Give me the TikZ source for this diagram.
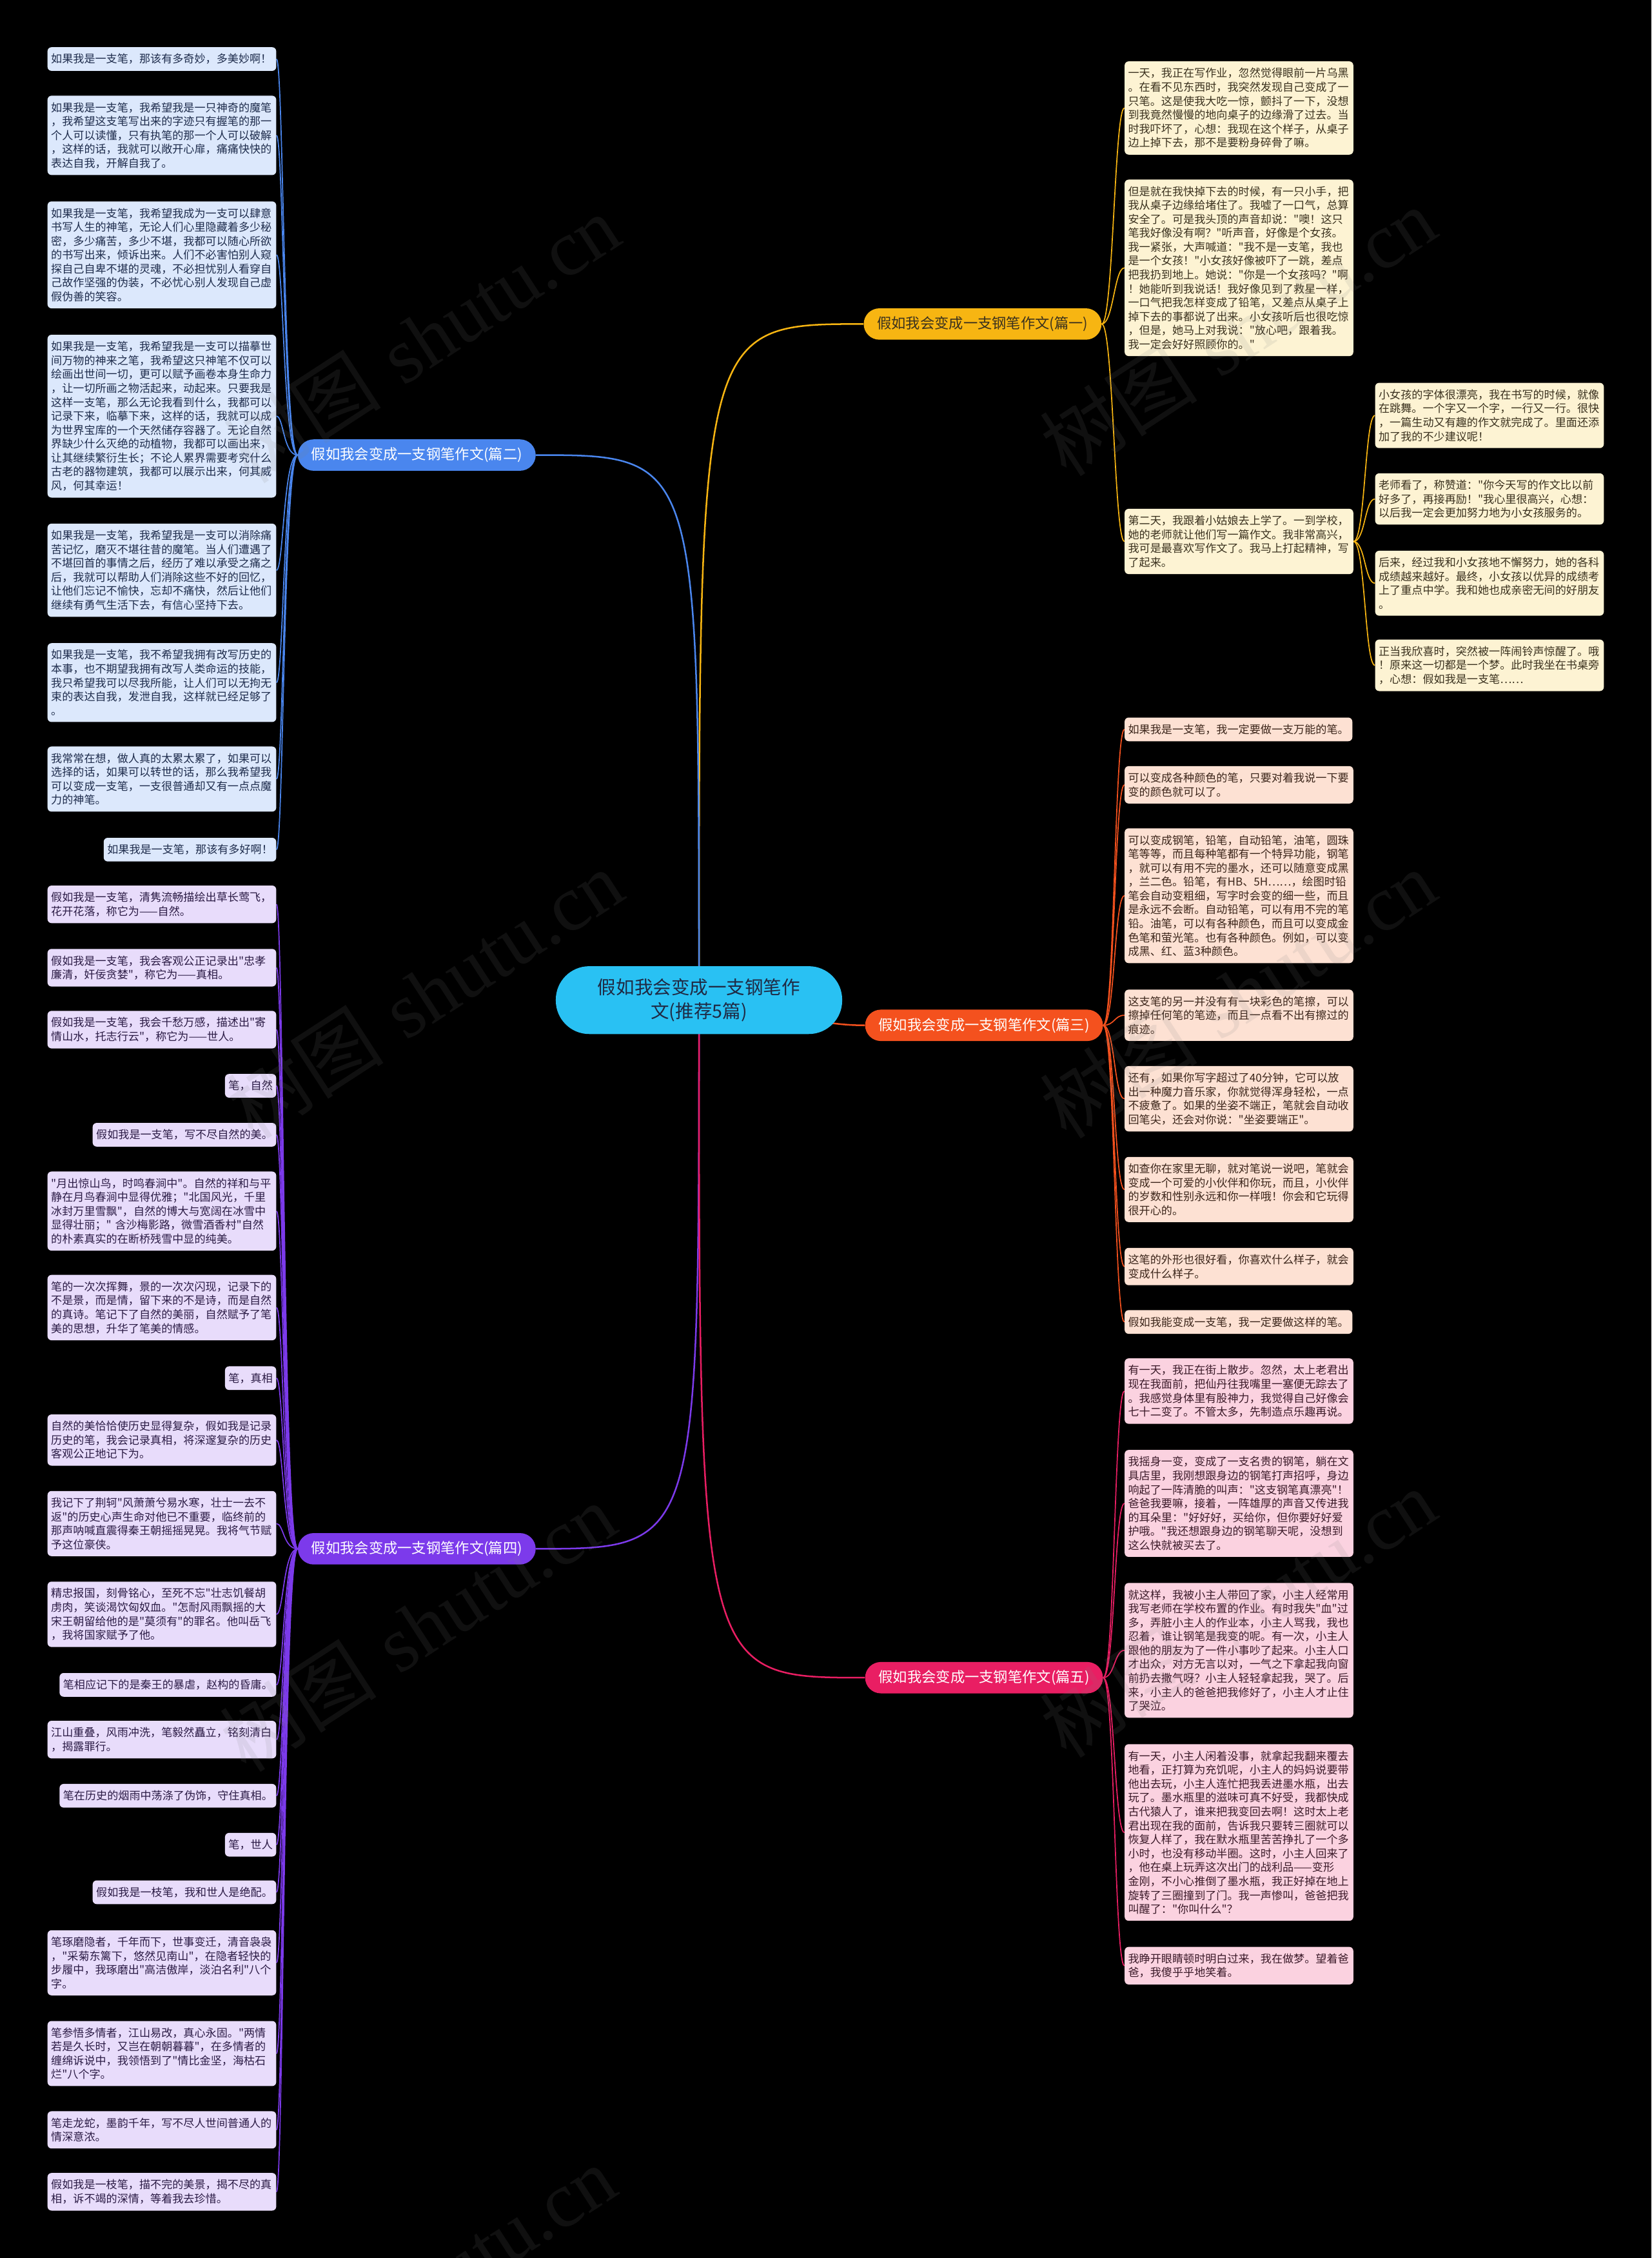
\documentclass[tikz,border=0pt]{standalone}
\usepackage{fontspec}
\newfontfamily\cjk{Noto Sans CJK SC}
\newfontfamily\wmlatin{Liberation Serif}
\usepackage{xcolor}
\definecolor{rootC}{HTML}{29C1F3}
\definecolor{rootT}{HTML}{1F2A44}
\definecolor{blueC}{HTML}{4A86EE}
\definecolor{blueL}{HTML}{DCE8FC}
\definecolor{blueT}{HTML}{1E2C4C}
\definecolor{purpC}{HTML}{7C3AEB}
\definecolor{purpL}{HTML}{E8DCFB}
\definecolor{purpT}{HTML}{2B1B45}
\definecolor{goldC}{HTML}{F7B512}
\definecolor{goldL}{HTML}{FDF3D3}
\definecolor{goldT}{HTML}{3A311E}
\definecolor{orngC}{HTML}{F4511E}
\definecolor{orngL}{HTML}{FDE1D3}
\definecolor{orngT}{HTML}{3B251A}
\definecolor{pinkC}{HTML}{E91E63}
\definecolor{pinkL}{HTML}{FBD2E0}
\definecolor{pinkT}{HTML}{3B1A29}

\pgfdeclarelayer{back}
\pgfsetlayers{back,main}

\newcommand{\leaffont}{\cjk\fontsize{10.9}{13.75}\selectfont}

\begin{document}
\begin{tikzpicture}[
    x=0.05cm, y=-0.05cm,
    root/.style={rounded corners=33pt, fill=rootC, text=rootT, minimum width=283pt,
      minimum height=67pt, align=center, font=\cjk\fontsize{18.2}{24}\selectfont},
    branch/.style={rounded corners=15.5pt, minimum width=235pt, minimum height=31pt,
      inner sep=0pt, font=\cjk\fontsize{14.2}{16}\selectfont},
    box/.style={rounded corners=4pt, inner xsep=3.5pt, inner ysep=6.5pt, font=\leaffont},
    leaf/.style={box, text width=219pt, align=left},
    blueK/.style={fill=blueL, text=blueT},
    purpK/.style={fill=purpL, text=purpT},
    goldK/.style={fill=goldL, text=goldT},
    orngK/.style={fill=orngL, text=orngT},
    pinkK/.style={fill=pinkL, text=pinkT},
    trunk/.style={line width=1.6pt},
    twig/.style={line width=1.1pt},
    wm/.style={text=gray, opacity=0.13, rotate=33, font=\fontsize{78}{80}\selectfont},
  ]

  \useasboundingbox (0,0) rectangle (1147,1568);

  % --- Root and the five essays ---
  \node[root] (root) at (485.5,694.5) {假如我会变成一支钢笔作\\文(推荐5篇)};

  \node[branch, fill=goldC, text=goldT] (p1) at (682.5,225) {假如我会变成一支钢笔作文(篇一)};
  \node[branch, fill=blueC, text=white] (p2) at (289.5,316) {假如我会变成一支钢笔作文(篇二)};
  \node[branch, fill=orngC, text=white] (p3) at (683.5,712) {假如我会变成一支钢笔作文(篇三)};
  \node[branch, fill=purpC, text=white] (p4) at (289.5,1075.5) {假如我会变成一支钢笔作文(篇四)};
  \node[branch, fill=pinkC, text=white] (p5) at (683.5,1165) {假如我会变成一支钢笔作文(篇五)};

  % --- 篇一 (right, top) ---
  \node[leaf, goldK, anchor=west] (p1a) at (781,75) {一天，我正在写作业，忽然觉得眼前一片乌黑\\。在看不见东西时，我突然发现自己变成了一\\只笔。这是使我大吃一惊，颤抖了一下，没想\\到我竟然慢慢的地向桌子的边缘滑了过去。当\\时我吓坏了，心想：我现在这个样子，从桌子\\边上掉下去，那不是要粉身碎骨了嘛。};
  \node[leaf, goldK, anchor=west] (p1b) at (781,186) {但是就在我快掉下去的时候，有一只小手，把\\我从桌子边缘给堵住了。我嘘了一口气，总算\\安全了。可是我头顶的声音却说："噢！这只\\笔我好像没有啊？"听声音，好像是个女孩。\\我一紧张，大声喊道："我不是一支笔，我也\\是一个女孩！"小女孩好像被吓了一跳，差点\\把我扔到地上。她说："你是一个女孩吗？"啊\\！她能听到我说话！我好像见到了救星一样，\\一口气把我怎样变成了铅笔，又差点从桌子上\\掉下去的事都说了出来。小女孩听后也很吃惊\\，但是，她马上对我说："放心吧，跟着我。\\我一定会好好照顾你的。"};
  \node[leaf, goldK, anchor=west] (p1c) at (781,376) {第二天，我跟着小姑娘去上学了。一到学校，\\她的老师就让他们写一篇作文。我非常高兴，\\我可是最喜欢写作文了。我马上打起精神，写\\了起来。};
  \node[leaf, goldK, anchor=west] (p1ca) at (955,288.5) {小女孩的字体很漂亮，我在书写的时候，就像\\在跳舞。一个字又一个字，一行又一行。很快\\，一篇生动又有趣的作文就完成了。里面还添\\加了我的不少建议呢！};
  \node[leaf, goldK, anchor=west] (p1cb) at (955,346.5) {老师看了，称赞道："你今天写的作文比以前\\好多了，再接再励！"我心里很高兴，心想：\\以后我一定会更加努力地为小女孩服务的。};
  \node[leaf, goldK, anchor=west] (p1cc) at (955,405) {后来，经过我和小女孩地不懈努力，她的各科\\成绩越来越好。最终，小女孩以优异的成绩考\\上了重点中学。我和她也成亲密无间的好朋友\\。};
  \node[leaf, goldK, anchor=west] (p1cd) at (955,462) {正当我欣喜时，突然被一阵闹铃声惊醒了。哦\\！原来这一切都是一个梦。此时我坐在书桌旁\\，心想：假如我是一支笔……};

  % --- 篇二 (left, top) ---
  \node[leaf, blueK, anchor=east] (p2a) at (192,41) {如果我是一支笔，那该有多奇妙，多美妙啊！};
  \node[leaf, blueK, anchor=east] (p2b) at (192,94) {如果我是一支笔，我希望我是一只神奇的魔笔\\，我希望这支笔写出来的字迹只有握笔的那一\\个人可以读懂，只有执笔的那一个人可以破解\\，这样的话，我就可以敞开心扉，痛痛快快的\\表达自我，开解自我了。};
  \node[leaf, blueK, anchor=east] (p2c) at (192,177) {如果我是一支笔，我希望我成为一支可以肆意\\书写人生的神笔，无论人们心里隐藏着多少秘\\密，多少痛苦，多少不堪，我都可以随心所欲\\的书写出来，倾诉出来。人们不必害怕别人窥\\探自己自卑不堪的灵魂，不必担忧别人看穿自\\己故作坚强的伪装，不必忧心别人发现自己虚\\假伪善的笑容。};
  \node[leaf, blueK, anchor=east] (p2d) at (192,289) {如果我是一支笔，我希望我是一支可以描摹世\\间万物的神来之笔，我希望这只神笔不仅可以\\绘画出世间一切，更可以赋予画卷本身生命力\\，让一切所画之物活起来，动起来。只要我是\\这样一支笔，那么无论我看到什么，我都可以\\记录下来，临摹下来，这样的话，我就可以成\\为世界宝库的一个天然储存容器了。无论自然\\界缺少什么灭绝的动植物，我都可以画出来，\\让其继续繁衍生长；不论人累界需要考究什么\\古老的器物建筑，我都可以展示出来，何其威\\风，何其幸运！};
  \node[leaf, blueK, anchor=east] (p2e) at (192,396) {如果我是一支笔，我希望我是一支可以消除痛\\苦记忆，磨灭不堪往昔的魔笔。当人们遭遇了\\不堪回首的事情之后，经历了难以承受之痛之\\后，我就可以帮助人们消除这些不好的回忆，\\让他们忘记不愉快，忘却不痛快，然后让他们\\继续有勇气生活下去，有信心坚持下去。};
  \node[leaf, blueK, anchor=east] (p2f) at (192,474) {如果我是一支笔，我不希望我拥有改写历史的\\本事，也不期望我拥有改写人类命运的技能，\\我只希望我可以尽我所能，让人们可以无拘无\\束的表达自我，发泄自我，这样就已经足够了\\。};
  \node[leaf, blueK, anchor=east] (p2g) at (192,541) {我常常在想，做人真的太累太累了，如果可以\\选择的话，如果可以转世的话，那么我希望我\\可以变成一支笔，一支很普通却又有一点点魔\\力的神笔。};
  \node[box, blueK, anchor=east] (p2h) at (192,590) {如果我是一支笔，那该有多好啊！};

  % --- 篇三 (right, middle) ---
  \node[box, orngK, anchor=west] (p3a) at (781,506.5) {如果我是一支笔，我一定要做一支万能的笔。};
  \node[leaf, orngK, anchor=west] (p3b) at (781,545) {可以变成各种颜色的笔，只要对着我说一下要\\变的颜色就可以了。};
  \node[leaf, orngK, anchor=west] (p3c) at (781,622) {可以变成钢笔，铅笔，自动铅笔，油笔，圆珠\\笔等等，而且每种笔都有一个特异功能，钢笔\\，就可以有用不完的墨水，还可以随意变成黑\\，兰二色。铅笔，有HB、5H……，绘图时铅\\笔会自动变粗细，写字时会变的细一些，而且\\是永远不会断。自动铅笔，可以有用不完的笔\\铅。油笔，可以有各种颜色，而且可以变成金\\色笔和萤光笔。也有各种颜色。例如，可以变\\成黑、红、蓝3种颜色。};
  \node[leaf, orngK, anchor=west] (p3d) at (781,705) {这支笔的另一并没有有一块彩色的笔擦，可以\\擦掉任何笔的笔迹，而且一点看不出有擦过的\\痕迹。};
  \node[leaf, orngK, anchor=west] (p3e) at (781,763) {还有，如果你写字超过了40分钟，它可以放\\出一种魔力音乐家，你就觉得浑身轻松，一点\\不疲惫了。如果的坐姿不端正，笔就会自动收\\回笔尖，还会对你说："坐姿要端正"。};
  \node[leaf, orngK, anchor=west] (p3f) at (781,826) {如查你在家里无聊，就对笔说一说吧，笔就会\\变成一个可爱的小伙伴和你玩，而且，小伙伴\\的岁数和性别永远和你一样哦！你会和它玩得\\很开心的。};
  \node[leaf, orngK, anchor=west] (p3g) at (781,879.5) {这笔的外形也很好看，你喜欢什么样子，就会\\变成什么样子。};
  \node[box, orngK, anchor=west] (p3h) at (781,918) {假如我能变成一支笔，我一定要做这样的笔。};

  % --- 篇四 (left, lower) ---
  \node[leaf, purpK, anchor=east] (p4a) at (192,628) {假如我是一支笔，清隽流畅描绘出草长莺飞，\\花开花落，称它为——自然。};
  \node[leaf, purpK, anchor=east] (p4b) at (192,672) {假如我是一支笔，我会客观公正记录出"忠孝\\廉清，奸佞贪婪"，称它为——真相。};
  \node[leaf, purpK, anchor=east] (p4c) at (192,715) {假如我是一支笔，我会千愁万感，描述出"寄\\情山水，托志行云"，称它为——世人。};
  \node[box, purpK, anchor=east] (p4d) at (192,754) {笔，自然};
  \node[box, purpK, anchor=east] (p4e) at (192,788) {假如我是一支笔，写不尽自然的美。};
  \node[leaf, purpK, anchor=east] (p4f) at (192,841) {"月出惊山鸟，时鸣春涧中"。自然的祥和与平\\静在月鸟春涧中显得优雅；"北国风光，千里\\冰封万里雪飘"，自然的博大与宽阔在冰雪中\\显得壮丽；" 含沙梅影路，微雪酒香村"自然\\的朴素真实的在断桥残雪中显的纯美。};
  \node[leaf, purpK, anchor=east] (p4g) at (192,908) {笔的一次次挥舞，景的一次次闪现，记录下的\\不是景，而是情，留下来的不是诗，而是自然\\的真诗。笔记下了自然的美丽，自然赋予了笔\\美的思想，升华了笔美的情感。};
  \node[box, purpK, anchor=east] (p4h) at (192,957) {笔，真相};
  \node[leaf, purpK, anchor=east] (p4i) at (192,1000) {自然的美恰恰使历史显得复杂，假如我是记录\\历史的笔，我会记录真相，将深邃复杂的历史\\客观公正地记下为。};
  \node[leaf, purpK, anchor=east] (p4j) at (192,1058) {我记下了荆轲"风萧萧兮易水寒，壮士一去不\\返"的历史心声生命对他已不重要，临终前的\\那声呐喊直震得秦王朝摇摇晃晃。我将气节赋\\予这位豪侠。};
  \node[leaf, purpK, anchor=east] (p4k) at (192,1121) {精忠报国，刻骨铭心，至死不忘"壮志饥餐胡\\虏肉，笑谈渴饮匈奴血。"怎耐风雨飘摇的大\\宋王朝留给他的是"莫须有"的罪名。他叫岳飞\\，我将国家赋予了他。};
  \node[box, purpK, anchor=east] (p4l) at (192,1170) {笔相应记下的是秦王的暴虐，赵构的昏庸。};
  \node[leaf, purpK, anchor=east] (p4m) at (192,1208) {江山重叠，风雨冲洗，笔毅然矗立，铭刻清白\\，揭露罪行。};
  \node[box, purpK, anchor=east] (p4n) at (192,1247) {笔在历史的烟雨中荡涤了伪饰，守住真相。};
  \node[box, purpK, anchor=east] (p4o) at (192,1281) {笔，世人};
  \node[box, purpK, anchor=east] (p4p) at (192,1314) {假如我是一枝笔，我和世人是绝配。};
  \node[leaf, purpK, anchor=east] (p4q) at (192,1363) {笔琢磨隐者，千年而下，世事变迁，清音袅袅\\，"采菊东篱下，悠然见南山"，在隐者轻快的\\步履中，我琢磨出"高洁傲岸，淡泊名利"八个\\字。};
  \node[leaf, purpK, anchor=east] (p4r) at (192,1426) {笔参悟多情者，江山易改，真心永固。"两情\\若是久长时，又岂在朝朝暮暮"，在多情者的\\缠绵诉说中，我领悟到了"情比金坚，海枯石\\烂"八个字。};
  \node[leaf, purpK, anchor=east] (p4s) at (192,1479) {笔走龙蛇，墨韵千年，写不尽人世间普通人的\\情深意浓。};
  \node[leaf, purpK, anchor=east] (p4t) at (192,1522) {假如我是一枝笔，描不完的美景，揭不尽的真\\相，诉不竭的深情，等着我去珍惜。};

  % --- 篇五 (right, lower) ---
  \node[leaf, pinkK, anchor=west] (p5a) at (781,966) {有一天，我正在街上散步。忽然，太上老君出\\现在我面前，把仙丹往我嘴里一塞便无踪去了\\。我感觉身体里有股神力，我觉得自己好像会\\七十二变了。不管太多，先制造点乐趣再说。};
  \node[leaf, pinkK, anchor=west] (p5b) at (781,1044) {我摇身一变，变成了一支名贵的钢笔，躺在文\\具店里，我刚想跟身边的钢笔打声招呼，身边\\响起了一阵清脆的叫声："这支钢笔真漂亮"！\\爸爸我要嘛，接着，一阵雄厚的声音又传进我\\的耳朵里："好好好，买给你，但你要好好爱\\护哦。"我还想跟身边的钢笔聊天呢，没想到\\这么快就被买去了。};
  \node[leaf, pinkK, anchor=west] (p5c) at (781,1146) {就这样，我被小主人带回了家，小主人经常用\\我写老师在学校布置的作业。有时我失"血"过\\多，弄脏小主人的作业本，小主人骂我，我也\\忍着，谁让钢笔是我变的呢。有一次，小主人\\跟他的朋友为了一件小事吵了起来。小主人口\\才出众，对方无言以对，一气之下拿起我向窗\\前扔去撒气呀？小主人轻轻拿起我，哭了。后\\来，小主人的爸爸把我修好了，小主人才止住\\了哭泣。};
  \node[leaf, pinkK, anchor=west] (p5d) at (781,1272.5) {有一天，小主人闲着没事，就拿起我翻来覆去\\地看，正打算为充饥呢，小主人的妈妈说要带\\他出去玩，小主人连忙把我丢进墨水瓶，出去\\玩了。墨水瓶里的滋味可真不好受，我都快成\\古代猿人了，谁来把我变回去啊！这时太上老\\君出现在我的面前，告诉我只要转三圈就可以\\恢复人样了，我在默水瓶里苦苦挣扎了一个多\\小时，也没有移动半圈。这时，小主人回来了\\，他在桌上玩弄这次出门的战利品——变形\\金刚，不小心推倒了墨水瓶，我正好掉在地上\\旋转了三圈撞到了门。我一声惨叫，爸爸把我\\叫醒了："你叫什么"？};
  \node[leaf, pinkK, anchor=west] (p5e) at (781,1365) {我睁开眼睛顿时明白过来，我在做梦。望着爸\\爸，我傻乎乎地笑着。};

  % --- Connectors, behind the boxes ---
  \begin{pgfonlayer}{back}
    \fill[black] (0,0) rectangle (1147,1568);
    \draw[trunk, goldC] (root.center) .. controls (root.center |- p1.west) .. (p1.west);
    \draw[trunk, blueC] (root.center) .. controls (root.center |- p2.east) .. (p2.east);
    \draw[trunk, orngC] (root.center) to[out=0, in=180] (p3.west);
    \draw[trunk, purpC] (root.center) .. controls (root.center |- p4.east) .. (p4.east);
    \draw[trunk, pinkC] (root.center) .. controls (root.center |- p5.west) .. (p5.west);

    \foreach \n in {a,b,c}
      \draw[twig, goldC] (p1.east) .. controls +(8,0) and +(-7,0) .. (p1\n.west);
    \foreach \n in {ca,cb,cc,cd}
      \draw[twig, goldC] (p1c.east) .. controls +(8,0) and +(-7,0) .. (p1\n.west);
    \foreach \n in {a,...,h}
      \draw[twig, blueC] (p2.west) .. controls +(-10,0) and +(5,0) .. (p2\n.east);
    \foreach \n in {a,...,h}
      \draw[twig, orngC] (p3.east) .. controls +(8,0) and +(-7,0) .. (p3\n.west);
    \foreach \n in {a,...,t}
      \draw[twig, purpC] (p4.west) .. controls +(-10,0) and +(5,0) .. (p4\n.east);
    \foreach \n in {a,...,e}
      \draw[twig, pinkC] (p5.east) .. controls +(8,0) and +(-7,0) .. (p5\n.west);
  \end{pgfonlayer}

  % --- Watermark ---
  \node[wm] (wm1) at (293,235) {{\cjk 树图} {\wmlatin shutu.cn}};
  \node[wm] (wm2) at (295,690) {{\cjk 树图} {\wmlatin shutu.cn}};
  \node[wm] (wm3) at (290,1130) {{\cjk 树图} {\wmlatin shutu.cn}};
  \node[wm] (wm4) at (290,1590) {{\cjk 树图} {\wmlatin shutu.cn}};
  \node[wm] (wm5) at (860,230) {{\cjk 树图} {\wmlatin shutu.cn}};
  \node[wm] (wm6) at (860,690) {{\cjk 树图} {\wmlatin shutu.cn}};
  \node[wm] (wm7) at (860,1120) {{\cjk 树图} {\wmlatin shutu.cn}};

\end{tikzpicture}
\end{document}
